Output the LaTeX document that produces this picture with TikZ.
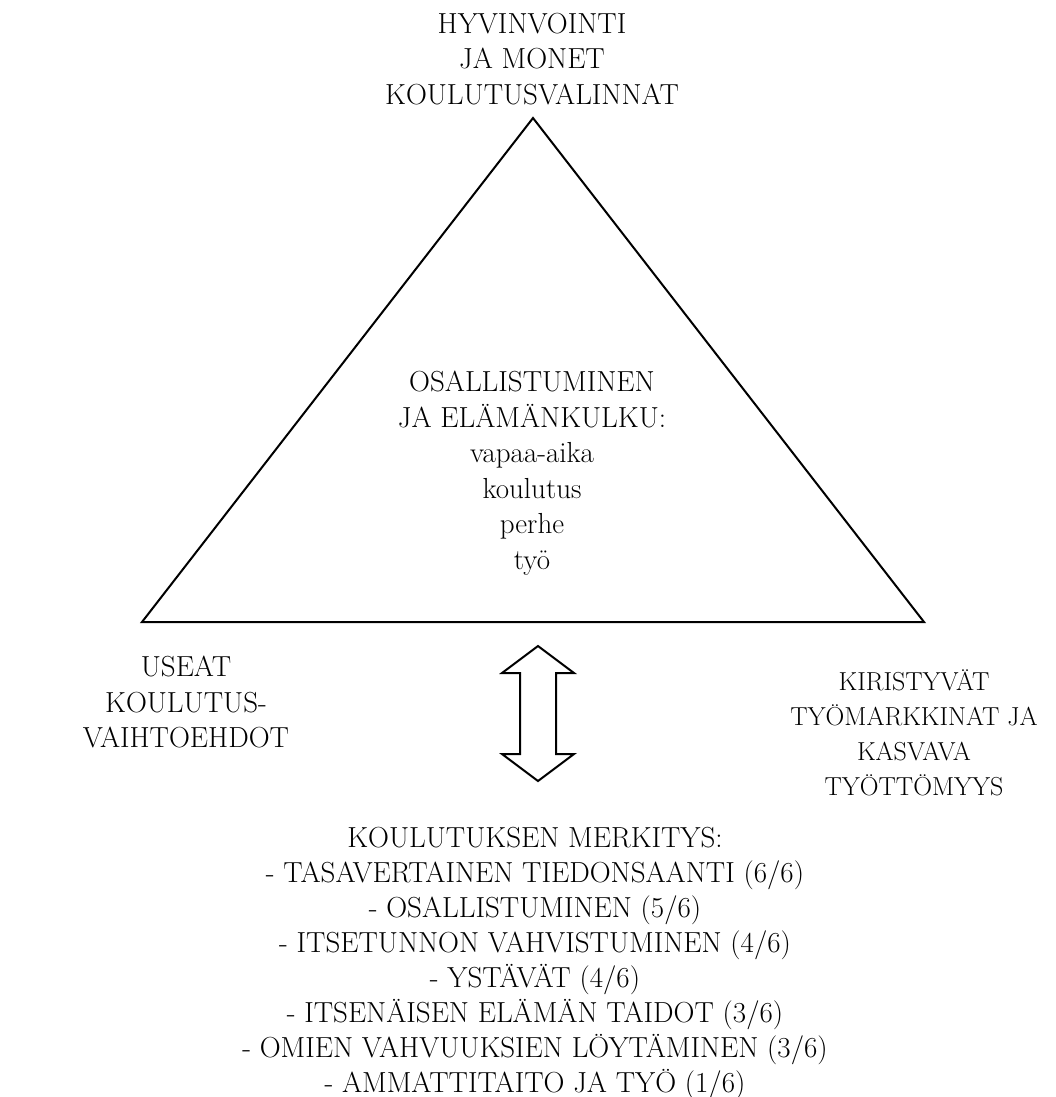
\documentclass[tikz,border=0pt]{standalone}
\begin{document}
\begin{tikzpicture}[x=1pt,y=-1pt,
  lbl/.style={inner sep=0pt, align=center, font=\fontsize{29}{35.5}\selectfont},
  listlbl/.style={inner sep=0pt, align=center, font=\fontsize{29}{35}\selectfont},
  narrowlbl/.style={inner sep=0pt, align=center, font=\fontsize{26}{35}\selectfont},
  shapeline/.style={line width=2pt, line join=miter}]
\useasboundingbox (0,0) rectangle (1056,1097);
% triangle
\coordinate (apex) at (533,118);
\coordinate (bl) at (142,622);
\coordinate (br) at (924,622);
\draw[shapeline] (apex) -- (bl) -- (br) -- cycle;
% double arrow
\draw[shapeline] (538,646) -- (574,673) -- (556,673) -- (556,754) -- (574,754)
  -- (538,781) -- (502,754) -- (520,754) -- (520,673) -- (502,673) -- cycle;
% labels
\node[lbl] (top) at (532,59) {HYVINVOINTI\\JA MONET\\KOULUTUSVALINNAT};
\node[lbl] (center) at (532,473) {OSALLISTUMINEN\\JA ELÄMÄNKULKU:\\vapaa-aika\\koulutus\\perhe\\työ};
\node[lbl] (left) at (186,702) {USEAT\\KOULUTUS-\\VAIHTOEHDOT};
\node[narrowlbl] (right) at (914,733) {KIRISTYVÄT\\TYÖMARKKINAT JA\\KASVAVA\\TYÖTTÖMYYS};
\node[listlbl] (list) at (535,963) {KOULUTUKSEN MERKITYS:\\- TASAVERTAINEN TIEDONSAANTI (6/6)\\- OSALLISTUMINEN (5/6)\\- ITSETUNNON VAHVISTUMINEN (4/6)\\- YSTÄVÄT (4/6)\\- ITSENÄISEN ELÄMÄN TAIDOT (3/6)\\- OMIEN VAHVUUKSIEN LÖYTÄMINEN (3/6)\\- AMMATTITAITO JA TYÖ (1/6)};
\end{tikzpicture}
\end{document}
